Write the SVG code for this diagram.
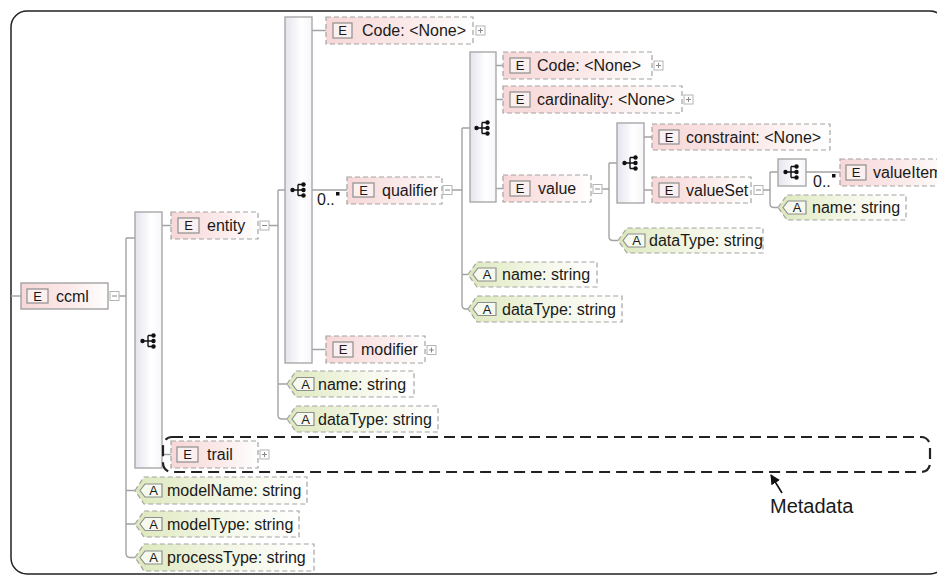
<svg xmlns="http://www.w3.org/2000/svg" xmlns:xlink="http://www.w3.org/1999/xlink" width="937" height="577" viewBox="0 0 937 577">
<defs>
<style>
text{font-family:"Liberation Sans",Arial,sans-serif;fill:#1a1a1a}
.lbl{font-size:16px}
.bd{font-size:13px;text-anchor:middle}
.el{fill:url(#pink);stroke:#a3a3a3;stroke-width:1.2;stroke-dasharray:5 3}
.elS{fill:url(#pink);stroke:#a3a3a3;stroke-width:1.4}
.at{fill:url(#green);stroke:#a3a3a3;stroke-width:1.2;stroke-dasharray:5 3}
.eb{fill:#fcefef;stroke:#8e8e8e;stroke-width:1.2}
.ab{fill:#f6f9ee;stroke:#8e8e8e;stroke-width:1.2}
.bar{fill:url(#barg);stroke:#a8a8a8;stroke-width:1.4}
.pm{fill:#fff;stroke:#b4b4b4;stroke-width:1}
.pmi{stroke:#8a8a8a;stroke-width:1}
.cn{fill:none;stroke:#a3a3a3;stroke-width:1.4}
</style>
<linearGradient id="pink" x1="0" y1="0" x2="1" y2="0">
<stop offset="0" stop-color="#f7d7d7"/><stop offset="0.55" stop-color="#fbe9e9"/><stop offset="1" stop-color="#ffffff"/>
</linearGradient>
<linearGradient id="green" x1="0" y1="0" x2="1" y2="0">
<stop offset="0" stop-color="#dde8bd"/><stop offset="0.5" stop-color="#f2f6e4"/><stop offset="1" stop-color="#ffffff"/>
</linearGradient>
<linearGradient id="barg" x1="0" y1="0" x2="1" y2="0">
<stop offset="0" stop-color="#e4e4ee"/><stop offset="0.6" stop-color="#ffffff"/><stop offset="1" stop-color="#f6f6fa"/>
</linearGradient>
<g id="seq">
<circle cx="-6.5" cy="0" r="2.2" fill="#111"/>
<path d="M-6.5,0H3.5M-1,-5.5V5.5M-1,-5.5H3.5M-1,5.5H3.5" stroke="#111" stroke-width="1.4" fill="none"/>
<circle cx="4.5" cy="-5.5" r="2.2" fill="#111"/><circle cx="4.5" cy="0" r="2.2" fill="#111"/><circle cx="4.5" cy="5.5" r="2.2" fill="#111"/>
</g>
<g id="minus"><rect class="pm" x="0" y="0" width="9" height="9"/><path class="pmi" d="M2,4.5H7"/></g>
<g id="plus"><rect class="pm" x="0" y="0" width="9" height="9"/><path class="pmi" d="M2,4.5H7M4.5,2V7"/></g>
<marker id="ah" markerWidth="10" markerHeight="10" refX="9" refY="5" orient="auto" markerUnits="userSpaceOnUse">
<path d="M0,0L10,5L0,10Z" fill="#111"/>
</marker>
</defs>

<!-- outer frame -->
<rect x="11" y="11" width="935" height="563" rx="16" fill="none" stroke="#222" stroke-width="1.5"/>

<g id="connectors">
<path class="cn" d="M11,296H21"/>
<path class="cn" d="M119,296H126M126,238H135M126,238V553Q126,557.5 130,557.5H135M126,490.5H135M126,524H135"/>
<path class="cn" d="M162,225.5H171M162,454.5H171"/>
<path class="cn" d="M269,225.5H278M278,190H285M278,190V415Q278,419 282,419H287M278,384H287"/>
<path class="cn" d="M312,30.5H326M312,190H347M312,349.5H326"/>
<path class="cn" d="M452,190H462M462,128H470M462,128V305Q462,309 466,309H468M462,274.5H468"/>
<path class="cn" d="M496,65.5H503M496,99.5H503M496,188.5H503"/>
<path class="cn" d="M602,189H609M609,163H617M609,163V236.5Q609,240.5 613,240.5H618"/>
<path class="cn" d="M644,137H652M644,190H652"/>
<path class="cn" d="M763,190H770M770,172H778M770,172V203.5Q770,207.5 774,207.5H778"/>
<path class="cn" d="M806,172H840"/>
</g>

<!-- compositor bars -->
<g id="seq1"><rect class="bar" x="135" y="212" width="27" height="256"/><use xlink:href="#seq" x="149" y="341"/></g>
<g id="seq2"><rect class="bar" x="285" y="17" width="27" height="346"/><use xlink:href="#seq" x="299" y="190"/></g>
<g id="seq3"><rect class="bar" x="470" y="52" width="26" height="150"/><use xlink:href="#seq" x="483" y="128"/></g>
<g id="seq4"><rect class="bar" x="617" y="123" width="27" height="80"/><use xlink:href="#seq" x="631" y="163"/></g>
<g id="seq5"><rect class="bar" x="778" y="159" width="28" height="27"/><use xlink:href="#seq" x="792" y="172"/></g>

<!-- element nodes -->
<g id="ccml"><rect class="elS" x="21" y="283" width="87" height="26"/><rect class="eb" x="27" y="289" width="21" height="14"/><text class="bd" x="37.5" y="300.5">E</text><text class="lbl" x="56" y="301.5">ccml</text><use xlink:href="#minus" x="110" y="291.5"/></g>
<g id="entity"><rect class="el" x="171" y="212" width="87" height="27"/><rect class="eb" x="178" y="218" width="21" height="15"/><text class="bd" x="188.5" y="230">E</text><text class="lbl" x="207" y="231">entity</text><use xlink:href="#minus" x="260" y="221"/></g>
<g id="code1"><rect class="el" x="326" y="17" width="147" height="27"/><rect class="eb" x="333" y="23" width="19" height="15"/><text class="bd" x="342.5" y="35">E</text><text class="lbl" x="362" y="36">Code: &lt;None&gt;</text><use xlink:href="#plus" x="476" y="26"/></g>
<g id="qualifier"><rect class="el" x="347" y="177" width="95" height="27"/><rect class="eb" x="353" y="183" width="21" height="14"/><text class="bd" x="363.5" y="195">E</text><text class="lbl" x="382" y="196">qualifier</text><use xlink:href="#minus" x="443" y="185.5"/></g>
<g id="modifier"><rect class="el" x="326" y="336" width="99" height="27"/><rect class="eb" x="333" y="342" width="20" height="15"/><text class="bd" x="343" y="354">E</text><text class="lbl" x="361" y="355">modifier</text><use xlink:href="#plus" x="427" y="345.5"/></g>
<g id="code2"><rect class="el" x="503" y="52" width="149" height="27"/><rect class="eb" x="510" y="58" width="20" height="15"/><text class="bd" x="520" y="70">E</text><text class="lbl" x="537" y="71">Code: &lt;None&gt;</text><use xlink:href="#plus" x="654" y="61"/></g>
<g id="cardinality"><rect class="el" x="503" y="86" width="179" height="27"/><rect class="eb" x="510" y="92" width="20" height="15"/><text class="bd" x="520" y="104">E</text><text class="lbl" x="537" y="105">cardinality: &lt;None&gt;</text><use xlink:href="#plus" x="684" y="95"/></g>
<g id="value"><rect class="el" x="503" y="175" width="88" height="27"/><rect class="eb" x="510" y="181" width="20" height="15"/><text class="bd" x="520" y="193">E</text><text class="lbl" x="538" y="194">value</text><use xlink:href="#minus" x="593" y="184.5"/></g>
<g id="constraint"><rect class="el" x="652" y="124" width="178" height="26"/><rect class="eb" x="659" y="130" width="20" height="14"/><text class="bd" x="669" y="141.5">E</text><text class="lbl" x="686" y="142.5">constraint: &lt;None&gt;</text></g>
<g id="valueSet"><rect class="el" x="652" y="177" width="99" height="26"/><rect class="eb" x="659" y="183" width="20" height="14"/><text class="bd" x="669" y="194.5">E</text><text class="lbl" x="686" y="195.5">valueSet</text><use xlink:href="#minus" x="754" y="185.5"/></g>
<g id="valueItem"><rect class="el" x="840" y="159" width="110" height="27"/><rect class="eb" x="846" y="165" width="20" height="15"/><text class="bd" x="856" y="177">E</text><text class="lbl" x="873" y="178">valueItem</text></g>
<g id="trail"><rect class="el" x="171" y="441" width="87" height="27"/><rect class="eb" x="177" y="447" width="21" height="15"/><text class="bd" x="187.5" y="459">E</text><text class="lbl" x="207" y="460">trail</text><use xlink:href="#plus" x="260" y="450"/></g>

<!-- occurrence labels -->
<g id="occ1"><text x="317" y="205" style="font-size:16px">0..</text><rect x="336" y="192" width="3.5" height="3.5" fill="#111"/></g>
<g id="occ2"><text x="813" y="187" style="font-size:16px">0..</text><rect x="832" y="174" width="3.5" height="3.5" fill="#111"/></g>

<!-- attribute nodes -->
<g id="modelName"><path class="at" d="M135,490.5L144,477H307V504H144Z"/><path class="ab" d="M140,490.5L145,484H162V497H145Z"/><text class="bd" x="153.5" y="495">A</text><text class="lbl" x="167" y="496">modelName: string</text></g>
<g id="modelType"><path class="at" d="M135,524L144,511H299V537H144Z"/><path class="ab" d="M140,524L145,517.5H162V530.5H145Z"/><text class="bd" x="153.5" y="528.5">A</text><text class="lbl" x="167" y="529.5">modelType: string</text></g>
<g id="processType"><path class="at" d="M135,557.5L144,544H314V571H144Z"/><path class="ab" d="M140,557.5L145,551H162V564H145Z"/><text class="bd" x="153.5" y="562">A</text><text class="lbl" x="167" y="563">processType: string</text></g>
<g id="entityName"><path class="at" d="M287,384L296,371H414V397H296Z"/><path class="ab" d="M292,384L297,377.5H314V390.5H297Z"/><text class="bd" x="305.5" y="388.5">A</text><text class="lbl" x="318" y="389.5">name: string</text></g>
<g id="entityDataType"><path class="at" d="M287,419L296,406H438V432H296Z"/><path class="ab" d="M292,419L297,412.5H314V425.5H297Z"/><text class="bd" x="305.5" y="423.5">A</text><text class="lbl" x="318" y="424.5">dataType: string</text></g>
<g id="qualifierName"><path class="at" d="M468,274.5L477,262H597V287H477Z"/><path class="ab" d="M473,274.5L478,268H496V281H478Z"/><text class="bd" x="487" y="279">A</text><text class="lbl" x="502" y="280">name: string</text></g>
<g id="qualifierDataType"><path class="at" d="M468,309L477,296H622V322H477Z"/><path class="ab" d="M473,309L478,302.5H496V315.5H478Z"/><text class="bd" x="487" y="313.5">A</text><text class="lbl" x="502" y="314.5">dataType: string</text></g>
<g id="valueDataType"><path class="at" d="M618,240.5L627,228H763V253H627Z"/><path class="ab" d="M623,240.5L628,234H645V247H628Z"/><text class="bd" x="636.5" y="245">A</text><text class="lbl" x="649" y="246">dataType: string</text></g>
<g id="valueSetName"><path class="at" d="M778,207.5L787,195H906V220H787Z"/><path class="ab" d="M783,207.5L788,201H806V214H788Z"/><text class="bd" x="797" y="212">A</text><text class="lbl" x="812" y="213">name: string</text></g>

<!-- metadata annotation -->
<g id="metadata">
<rect x="163" y="437" width="767" height="35" rx="9" fill="none" stroke="#222" stroke-width="2.2" stroke-dasharray="11 6"/>
<path d="M782,493L771,475" stroke="#111" stroke-width="1.6" marker-end="url(#ah)"/>
<text x="770" y="513" style="font-size:20px">Metadata</text>
</g>
</svg>
